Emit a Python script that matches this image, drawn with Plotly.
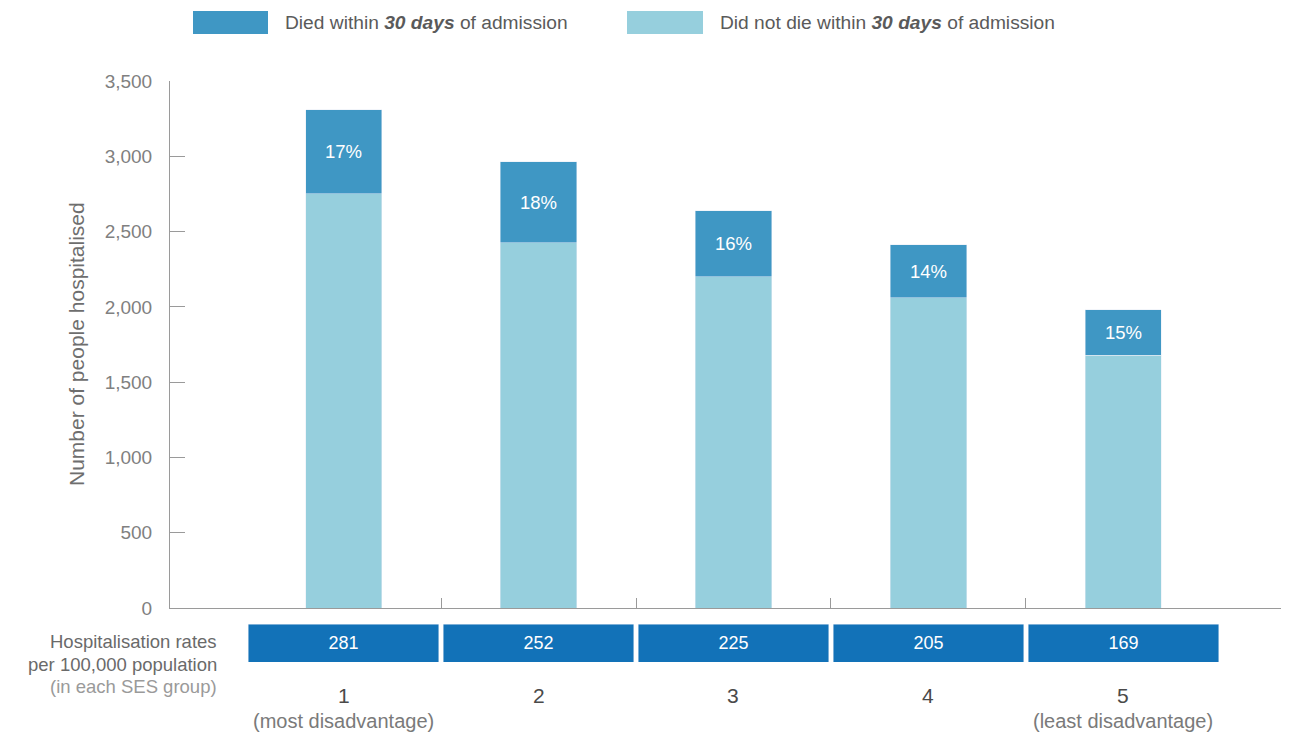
import plotly.graph_objects as go

# SES groups (1 = most disadvantaged)
groups = ["1", "2", "3", "4", "5"]
group_notes = ["(most disadvantage)", "", "", "", "(least disadvantage)"]
not_died = [2751, 2426, 2201, 2062, 1677]
died = [557, 537, 437, 351, 305]
died_pct = ["17%", "18%", "16%", "14%", "15%"]
rates = [281, 252, 225, 205, 169]

C_DIED = "#3f97c4"
C_ALIVE = "#96cfdd"
C_RATE = "#1272b8"
FONT = "Liberation Sans, Arial, sans-serif"

W, H = 1297, 734
L, R, T, B = 170, 16, 81, 72
PW, PH = W - L - R, H - T - B


def px_x(px):
    return (px - L) / PW


def px_y(py):
    return (H - B - py) / PH


xs = list(range(len(groups)))
x_range = [-0.89, 4.808]

fig = go.Figure()
fig.add_trace(go.Bar(
    x=xs, y=not_died, marker_color=C_ALIVE, width=0.39,
    name="Did not die", hoverinfo="skip", xaxis="x", yaxis="y",
))
fig.add_trace(go.Bar(
    x=xs, y=died, marker_color=C_DIED, width=0.39,
    text=died_pct, textposition="inside", insidetextanchor="middle",
    textfont=dict(color="white", size=18.5, family=FONT),
    constraintext="none", name="Died", hoverinfo="skip", xaxis="x", yaxis="y",
))
# strip of hospitalisation rates under the chart
fig.add_trace(go.Bar(
    x=xs, y=[1] * len(rates), marker_color=C_RATE, width=0.977,
    text=[str(r) for r in rates], textposition="inside", insidetextanchor="middle",
    textfont=dict(color="white", size=18, family=FONT),
    constraintext="none", hoverinfo="skip", xaxis="x2", yaxis="y2",
))

main_bottom = px_y(608)
fig.update_layout(
    width=W, height=H, barmode="stack", showlegend=False,
    plot_bgcolor="white", paper_bgcolor="white",
    margin=dict(l=L, r=R, t=T, b=B),
    font=dict(family=FONT, color="#777"),
    xaxis=dict(
        domain=[0, 1], range=x_range, anchor="y",
        showline=True, linecolor="#9a9a9a", linewidth=1,
        ticks="inside", ticklen=10, tickcolor="#9a9a9a",
        tickvals=[0.5, 1.5, 2.5, 3.5, 4.806], showticklabels=False,
        showgrid=False, zeroline=False,
    ),
    yaxis=dict(
        domain=[main_bottom, 1], range=[0, 3500], anchor="x",
        showline=True, linecolor="#9a9a9a", linewidth=1,
        ticks="inside", ticklen=15, tickcolor="#9a9a9a",
        tickvals=list(range(0, 3501, 500)), tickformat=",",
        tickfont=dict(size=19, color="#808080"), ticklabelstandoff=13,
        showgrid=False, zeroline=False,
    ),
    xaxis2=dict(
        domain=[0, 1], range=x_range, anchor="y2", visible=False,
    ),
    yaxis2=dict(
        domain=[0, px_y(624)], range=[0, 1], anchor="x2", visible=False,
    ),
)

# y axis title
fig.add_annotation(
    x=px_x(76), y=px_y(344), xref="paper", yref="paper",
    xanchor="center", yanchor="middle",
    text="Number of people hospitalised", textangle=-90, showarrow=False,
    font=dict(size=21, color="#6e6e6e"),
)

# custom legend (wide swatches)
legend_items = [
    (193, 268, 283, C_DIED, "Died within <b><i>30 days</i></b> of admission"),
    (627, 703, 718, C_ALIVE, "Did not die within <b><i>30 days</i></b> of admission"),
]
for x0, x1, tx, col, label in legend_items:
    fig.add_shape(
        type="rect", xref="paper", yref="paper",
        x0=px_x(x0), x1=px_x(x1), y0=px_y(34), y1=px_y(11),
        fillcolor=col, line_width=0,
    )
    fig.add_annotation(
        x=px_x(tx), y=px_y(23), xref="paper", yref="paper",
        xanchor="left", yanchor="middle", text=label, showarrow=False,
        font=dict(size=19.2, color="#5a5a5a"),
    )

# labels left of the rate strip
side = [
    ("Hospitalisation rates", 641, "#6a6a6a"),
    ("per 100,000 population", 664, "#6a6a6a"),
    ("(in each SES group)", 687, "#9a9a9a"),
]
for txt, py, col in side:
    fig.add_annotation(
        x=px_x(219), y=px_y(py), xref="paper", yref="paper",
        xanchor="right", yanchor="middle", text=txt, showarrow=False,
        font=dict(size=18.5, color=col),
    )

# SES group numbers and notes
for x, g, note in zip(xs, groups, group_notes):
    fig.add_annotation(
        x=x, y=px_y(695), xref="x", yref="paper", text=g, showarrow=False,
        yanchor="middle", font=dict(size=21, color="#4a4a4a"),
    )
    if note:
        fig.add_annotation(
            x=x, y=px_y(721), xref="x", yref="paper", text=note, showarrow=False,
            yanchor="middle", font=dict(size=20, color="#7a7a7a"),
        )

# drop the default page margin so the figure sits at the window's corner
fig.write_html(
    "out.html",
    config={"displayModeBar": False},
    post_script="document.body.style.margin = '0';",
)
